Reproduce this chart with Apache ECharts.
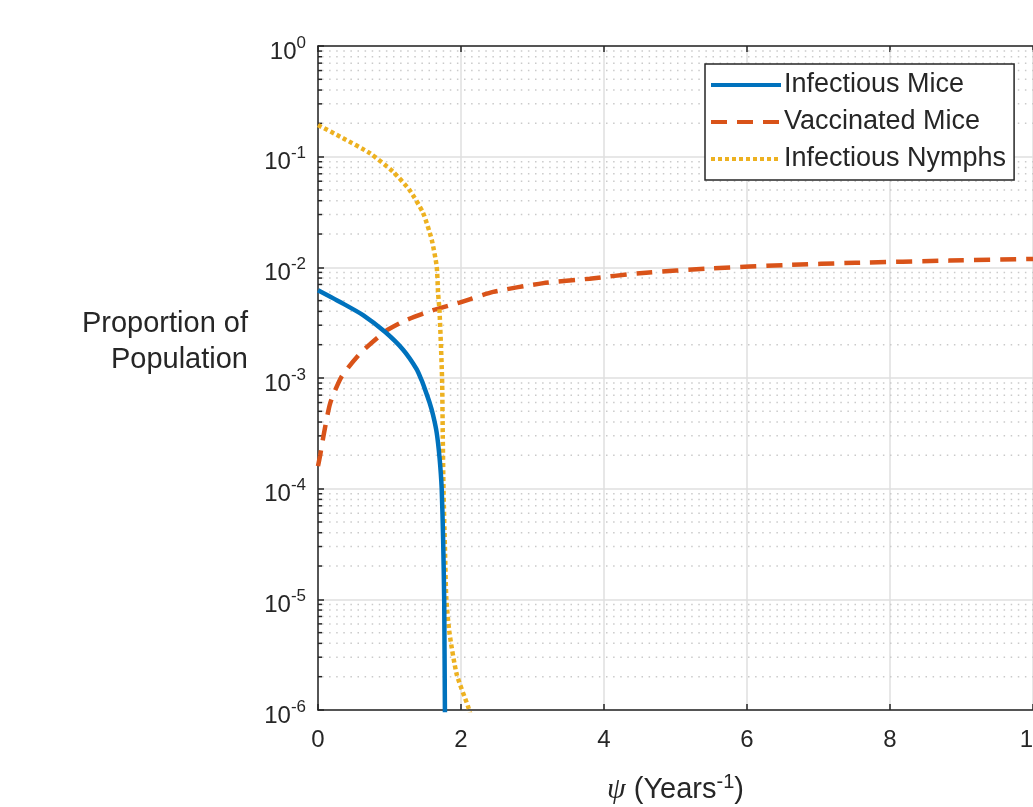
<!DOCTYPE html>
<html>
<head>
<meta charset="utf-8">
<title>Proportion of Population</title>
<script src="https://cdn.jsdelivr.net/npm/echarts@6/dist/echarts.min.js"></script>
<style>
  html, body { margin: 0; padding: 0; background: #fff; }
  #chart { width: 1033px; height: 807px; }
</style>
</head>
<body>
<div id="chart"></div>
<script>
// values (psi in Years^-1, proportion of population)
const miceX = [0, 0.35, 0.63, 0.94, 1.19, 1.38, 1.45, 1.49, 1.56, 1.61, 1.66, 1.70, 1.73, 1.75, 1.765, 1.775, 1.78];
const miceY = [6.2e-3, 4.7e-3, 3.7e-3, 2.6e-3, 1.8e-3, 1.2e-3, 9.5e-4, 8.1e-4, 6.0e-4, 4.6e-4, 3.2e-4, 1.9e-4, 1.0e-4, 3.5e-5, 1.0e-5, 1.0e-6, 5e-7];

const vaccX = [0, 0.03, 0.075, 0.17, 0.33, 0.59, 0.94, 1.24, 1.61, 1.98, 2.45, 3.15, 3.80, 4.5, 5.52, 6.55, 7.52, 8.83, 10];
const vaccY = [1.6e-4, 2.0e-4, 2.95e-4, 5.9e-4, 1.03e-3, 1.67e-3, 2.63e-3, 3.35e-3, 4.1e-3, 4.8e-3, 6.0e-3, 7.2e-3, 7.9e-3, 8.85e-3, 9.8e-3, 1.05e-2, 1.10e-2, 1.15e-2, 1.19e-2];

const nymphX = [0, 0.35, 0.73, 1.05, 1.28, 1.47, 1.59, 1.66, 1.68, 1.70, 1.735, 1.745, 1.755, 1.775, 1.795, 1.84, 1.94, 2.10, 2.16];
const nymphY = [0.193, 0.147, 0.107, 0.073, 0.050, 0.031, 0.0178, 0.0102, 5.8e-3, 4.0e-3, 1.0e-3, 3.0e-4, 1.0e-4, 3.0e-5, 1.0e-5, 4.9e-6, 2.1e-6, 1.07e-6, 8e-7];

const xTicks = { min: 0, max: 10, interval: 2 };
const decades = [-6, -5, -4, -3, -2, -1];
const minorSteps = [2, 3, 4, 5, 6, 7, 8, 9];

// minor log grid values (2..9 x each decade)
const minorValues = [];
decades.forEach(function (d) {
  minorSteps.forEach(function (m) { minorValues.push([0, m * Math.pow(10, d)]); });
});

function pairs(xs, ys) {
  return xs.map(function (x, i) { return [x, ys[i]]; });
}

const axisColor = '#262626';
const font = '"Liberation Sans", Arial, Helvetica, sans-serif';

const chart = echarts.init(document.getElementById('chart'));

const option = {
  animation: false,
  backgroundColor: '#fff',
  textStyle: { fontFamily: font },
  grid: { left: 318, top: 46, right: 0, bottom: 97, outerBoundsMode: 'none', containLabel: false },
  legend: {
    left: 705,
    top: 64,
    orient: 'vertical',
    selectedMode: false,
    backgroundColor: '#fff',
    borderColor: axisColor,
    borderWidth: 1.5,
    borderRadius: 0,
    padding: [6, 8, 6, 4],
    itemWidth: 70,
    itemHeight: 14,
    itemGap: 7,
    itemStyle: { opacity: 0 },
    lineStyle: { width: 4 },
    textStyle: { fontSize: 27, lineHeight: 30, color: axisColor, fontFamily: font, padding: [0, 0, 0, -2] },
    data: ['Infectious Mice', 'Vaccinated Mice', 'Infectious Nymphs']
  },
  xAxis: [{
    type: 'value',
    min: xTicks.min,
    max: xTicks.max,
    interval: xTicks.interval,
    name: '{psi|ψ} (Years{sup|-1})',
    nameLocation: 'middle',
    nameGap: 62,
    nameTextStyle: {
      fontSize: 29, color: axisColor,
      rich: {
        psi: { fontFamily: '"Liberation Serif", "DejaVu Serif", serif', fontStyle: 'italic', fontSize: 30, color: axisColor },
        sup: { fontSize: 20, color: axisColor, padding: [0, 0, 16, 0] }
      }
    },
    axisLine: { lineStyle: { color: axisColor, width: 1.5 } },
    axisTick: { inside: true, length: 6, lineStyle: { color: axisColor, width: 1.5 } },
    axisLabel: { fontSize: 24, color: axisColor, margin: 18 },
    splitLine: { show: true, lineStyle: { color: '#dfdfdf', width: 1.5 } }
  }, {
    type: 'value',
    position: 'top',
    min: xTicks.min,
    max: xTicks.max,
    interval: xTicks.interval,
    axisLine: { show: true, lineStyle: { color: axisColor, width: 1.5 } },
    axisTick: { show: true, inside: true, length: 6, lineStyle: { color: axisColor, width: 1.5 } },
    axisLabel: { show: false },
    splitLine: { show: false }
  }],
  yAxis: {
    type: 'log',
    logBase: 10,
    min: 1e-6,
    max: 1,
    interval: 1,
    name: 'Proportion of\nPopulation',
    nameLocation: 'middle',
    nameRotate: 0,
    nameGap: 70,
    nameTextStyle: { fontSize: 29, color: axisColor, align: 'right', verticalAlign: 'bottom', lineHeight: 36 },
    axisLine: { show: true, lineStyle: { color: axisColor, width: 1.5 } },
    axisTick: { show: true, inside: true, length: 6, lineStyle: { color: axisColor, width: 1.5 } },
    axisLabel: {
      margin: 12,
      color: axisColor,
      formatter: function (v) {
        return '{b|10}{s|' + Math.round(Math.log10(v)) + '}';
      },
      rich: {
        b: { fontSize: 24, color: axisColor, padding: [12, 0, 0, 0] },
        s: { fontSize: 17, color: axisColor, padding: [0, 0, 6, 0] }
      }
    },
    splitLine: { show: true, lineStyle: { color: '#dfdfdf', width: 1.5 } }
  },
  series: [{
    type: 'custom',
    name: 'minor',
    silent: true,
    z: 1,
    data: minorValues,
    encode: { x: 0, y: 1 },
    renderItem: function (params, api) {
      const p = api.coord([0, api.value(1)]);
      const cs = params.coordSys;
      return {
        type: 'group',
        children: [{
          type: 'line',
          shape: { x1: cs.x + 4, y1: p[1], x2: cs.x + cs.width, y2: p[1] },
          style: { stroke: '#cacaca', lineWidth: 1.5, lineDash: [1.5, 5.6] }
        }, {
          type: 'line',
          z2: 10,
          shape: { x1: cs.x, y1: p[1], x2: cs.x + 4, y2: p[1] },
          style: { stroke: axisColor, lineWidth: 1.5 }
        }]
      };
    }
  }, {
    name: 'Infectious Mice',
    type: 'line',
    z: 4,
    symbol: 'none',
    smooth: 0.2,
    data: pairs(miceX, miceY),
    lineStyle: { color: '#0072BD', width: 4.5 },
    itemStyle: { color: '#0072BD' }
  }, {
    name: 'Vaccinated Mice',
    type: 'line',
    z: 3,
    symbol: 'none',
    smooth: 0.2,
    data: pairs(vaccX, vaccY),
    lineStyle: { color: '#D95319', width: 4.5, type: [16, 10] },
    itemStyle: { color: '#D95319' }
  }, {
    name: 'Infectious Nymphs',
    type: 'line',
    z: 3,
    symbol: 'none',
    smooth: 0.2,
    data: pairs(nymphX, nymphY),
    lineStyle: { color: '#EDB120', width: 4.5, type: [4, 3] },
    itemStyle: { color: '#EDB120' }
  }]
};

chart.setOption(option);
</script>
</body>
</html>
